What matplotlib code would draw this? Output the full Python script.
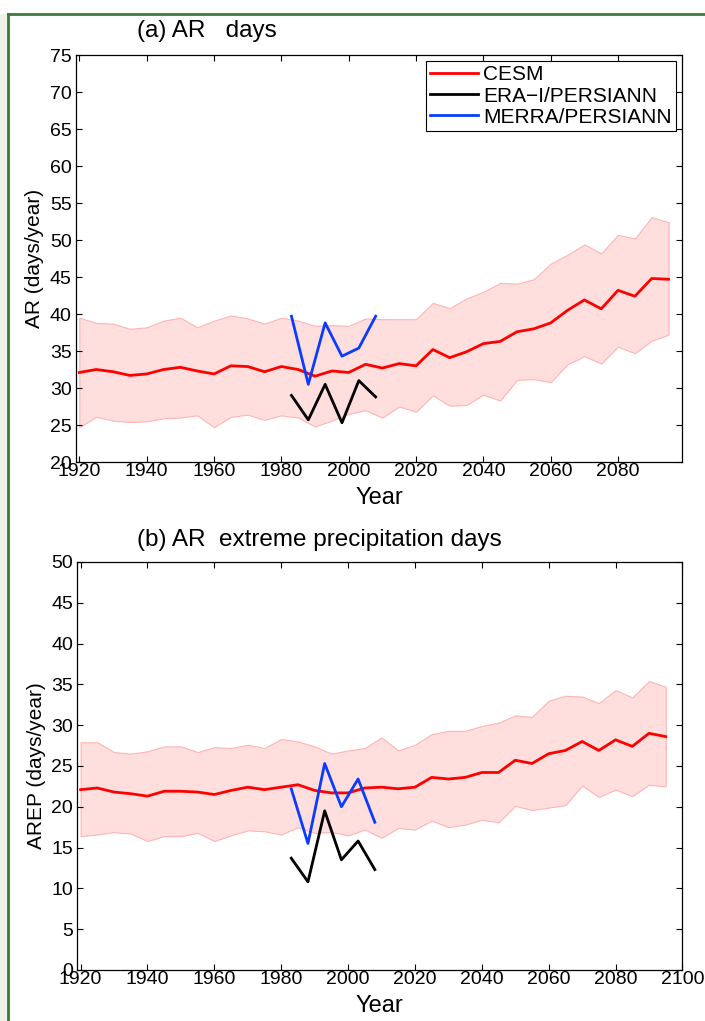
import numpy as np
import matplotlib
matplotlib.use('Agg')
import matplotlib.pyplot as plt
from matplotlib.lines import Line2D
from matplotlib.patches import Rectangle

plt.rcParams['font.family'] = ['Liberation Sans', 'DejaVu Sans']

# CESM ensemble, every 5 years
years = np.arange(1920, 2100, 5)

# (a) AR days
ar_mean = [32.1, 32.5, 32.2, 31.7, 31.9, 32.5, 32.8, 32.3, 31.9, 33.0, 32.9, 32.2,
           32.9, 32.5, 31.6, 32.3, 32.1, 33.2, 32.7, 33.3, 33.0, 35.2, 34.1, 34.9,
           36.0, 36.3, 37.6, 38.0, 38.8, 40.5, 41.9, 40.7, 43.2, 42.4, 44.8, 44.7]
ar_upper = [39.5, 38.8, 38.7, 38.0, 38.2, 39.1, 39.5, 38.2, 39.1, 39.8, 39.4, 38.7,
            39.5, 39.1, 38.4, 38.5, 38.4, 39.4, 39.3, 39.3, 39.3, 41.5, 40.8, 42.1,
            43.0, 44.2, 44.1, 44.7, 46.8, 48.0, 49.4, 48.2, 50.7, 50.2, 53.1, 52.4]
ar_lower = [24.7, 26.1, 25.6, 25.4, 25.5, 25.9, 26.0, 26.3, 24.7, 26.1, 26.4, 25.7,
            26.3, 26.0, 24.8, 25.6, 26.5, 27.0, 26.0, 27.5, 26.8, 29.0, 27.6, 27.7,
            29.1, 28.3, 31.1, 31.2, 30.8, 33.2, 34.3, 33.3, 35.6, 34.7, 36.4, 37.2]

# (b) AR extreme precipitation days
arep_mean = [22.1, 22.3, 21.8, 21.6, 21.3, 21.9, 21.9, 21.8, 21.5, 22.0, 22.4, 22.1,
             22.4, 22.7, 22.0, 21.7, 21.7, 22.3, 22.4, 22.2, 22.4, 23.6, 23.4, 23.6,
             24.2, 24.2, 25.7, 25.3, 26.5, 26.9, 28.0, 26.9, 28.2, 27.4, 29.0, 28.6]
arep_upper = [27.9, 27.9, 26.7, 26.5, 26.8, 27.4, 27.4, 26.7, 27.3, 27.2, 27.6, 27.2,
              28.3, 28.0, 27.4, 26.5, 26.9, 27.2, 28.5, 26.9, 27.6, 28.9, 29.3, 29.3,
              29.9, 30.3, 31.2, 31.0, 33.0, 33.6, 33.5, 32.7, 34.3, 33.4, 35.4, 34.7]
arep_lower = [16.4, 16.6, 16.9, 16.7, 15.8, 16.4, 16.4, 16.8, 15.8, 16.5, 17.1, 17.0,
              16.6, 17.5, 16.8, 16.9, 16.5, 17.2, 16.2, 17.4, 17.2, 18.3, 17.5, 17.8,
              18.4, 18.1, 20.1, 19.6, 19.9, 20.2, 22.6, 21.2, 22.1, 21.3, 22.7, 22.5]

# reanalysis / PERSIANN
obs_years = [1983, 1988, 1993, 1998, 2003, 2008]
era_ar = [29.0, 25.7, 30.5, 25.3, 31.0, 28.8]
merra_ar = [39.7, 30.5, 38.8, 34.3, 35.4, 39.7]
era_arep = [13.7, 10.8, 19.5, 13.5, 15.8, 12.3]
merra_arep = [22.2, 15.5, 25.3, 20.0, 23.4, 18.1]

red = '#ff0000'
blue = '#0a3cff'
band = '#ffdede'
band_edge = '#ffb4b4'

fig = plt.figure(figsize=(7.05, 10.21), dpi=100)

# slide frame
fig.add_artist(Rectangle((0, 0), 0.011, 0.986, transform=fig.transFigure,
                         facecolor='#f0f1eb', edgecolor='none', zorder=0))
fig.add_artist(Line2D([0.011, 1.0], [0.986, 0.986], transform=fig.transFigure,
                      color='#3b7a3b', lw=2.0))
fig.add_artist(Line2D([0.011, 0.011], [0.0, 0.986], transform=fig.transFigure,
                      color='#3b7a3b', lw=2.0))

ax1 = fig.add_axes([0.1078, 0.5475, 0.8596, 0.3986])
ax2 = fig.add_axes([0.1096, 0.0500, 0.8584, 0.3996])


def draw(ax, mean, upper, lower, era, merra):
    ax.fill_between(years, lower, upper, facecolor=band, edgecolor=band_edge, lw=0.8)
    ax.plot(years, mean, color=red, lw=2.0, label='CESM')
    ax.plot(obs_years, era, color='black', lw=2.0, label='ERA\u2212I/PERSIANN')
    ax.plot(obs_years, merra, color=blue, lw=2.0, label='MERRA/PERSIANN')
    ax.tick_params(direction='in', top=True, right=True, length=4, width=0.8,
                   labelsize=14)
    ax.tick_params(axis='x', pad=0.5)
    ax.tick_params(axis='y', pad=3)
    for s in ax.spines.values():
        s.set_linewidth(0.9)
    ax.set_xlabel('Year', fontsize=17, labelpad=5)


draw(ax1, ar_mean, ar_upper, ar_lower, era_ar, merra_ar)
ax1.set_xlim(1919, 2099)
ax1.set_ylim(20, 75)
ax1.set_xticks(np.arange(1920, 2081, 20))
ax1.set_yticks(np.arange(20, 76, 5))
ax1.set_ylabel('AR (days/year)', fontsize=15, labelpad=4)
leg = ax1.legend(loc='upper right', fontsize=15, frameon=True, fancybox=False,
                 edgecolor='black', framealpha=1, borderaxespad=0.3,
                 handlelength=2.3, handletextpad=0.25, labelspacing=0.1,
                 borderpad=0.2)
leg.get_frame().set_linewidth(0.8)

draw(ax2, arep_mean, arep_upper, arep_lower, era_arep, merra_arep)
ax2.set_xlim(1919, 2100)
ax2.set_ylim(0, 50)
ax2.set_xticks(np.arange(1920, 2101, 20))
ax2.set_yticks(np.arange(0, 51, 5))
ax2.set_ylabel('AREP (days/year)', fontsize=15, labelpad=4)

fig.text(0.194, 1 - 31 / 1021, '(a) AR   days', fontsize=17.5, va='center', ha='left')
fig.text(0.194, 1 - 540 / 1021, '(b) AR  extreme precipitation days', fontsize=17.5,
         va='center', ha='left')

fig.savefig('out.png', dpi=100)
